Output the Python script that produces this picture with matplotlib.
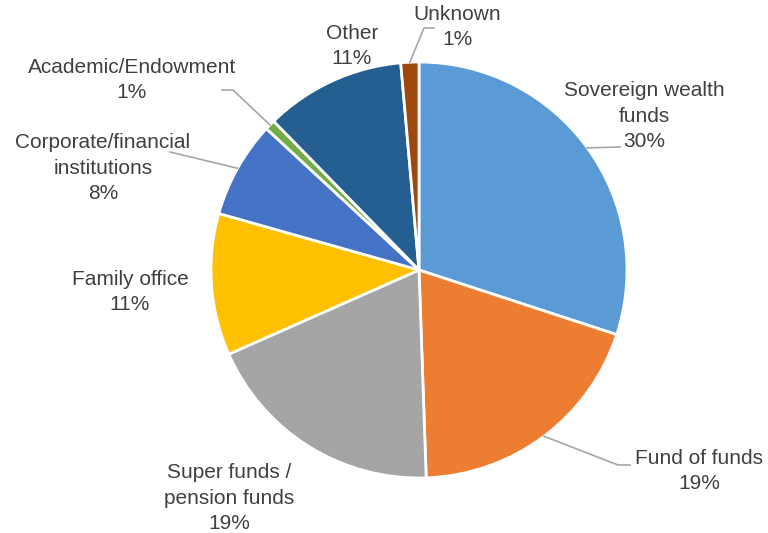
import numpy as np
import matplotlib.pyplot as plt

plt.rcParams['font.family'] = ['Liberation Sans', 'DejaVu Sans']

# investor types, clockwise from 12 o'clock
labels = ['Sovereign wealth\nfunds', 'Fund of funds', 'Super funds /\npension funds',
          'Family office', 'Corporate/financial\ninstitutions', 'Academic/Endowment',
          'Other', 'Unknown']
shares = [30.0, 19.4, 18.9, 11.0, 7.5, 0.8, 10.9, 1.4]
colors = ['#5B9BD5', '#ED7D31', '#A5A5A5', '#FFC000', '#4472C4', '#70AD47',
          '#255E91', '#9E480E']

# label block centres (pixels from top-left) and leader line elbows
label_pos = [(644, 116), (699, 471), (229, 498), (130, 292), (103, 168),
             (132, 80), (352, 46), (457, 27)]
leaders = {0: [(620, 147)],
           1: [(630, 465), (618, 465)],
           4: [(170, 152)],
           5: [(222, 90), (233, 90)],
           7: [(434, 28), (424, 28)]}

W, H = 768, 533
cx, cy, r = 419, 270, 208

fig = plt.figure(figsize=(W / 100, H / 100), dpi=100)
ax = fig.add_axes([(cx - r) / W, (H - cy - r) / H, 2 * r / W, 2 * r / H])
ax.pie(shares, colors=colors, startangle=90, counterclock=False,
       wedgeprops=dict(edgecolor='white', linewidth=2))
ax.set_xlim(-1, 1)
ax.set_ylim(-1, 1)
ax.set_aspect('auto')
ax.axis('off')

def fx(p):
    return (p[0] / W, 1 - p[1] / H)

total = sum(shares)
start = 0.0
for i, (lab, s) in enumerate(zip(labels, shares)):
    mid = start + s / 2
    start += s
    ang = np.deg2rad(mid / total * 360)
    edge = (cx + r * np.sin(ang), cy - r * np.cos(ang))
    pct = '%.0f%%' % (s / total * 100)
    fig.text(*fx(label_pos[i]), lab + '\n' + pct, ha='center', va='center',
             fontsize=15, color='#404040', linespacing=1.42)
    if i in leaders:
        pts = leaders[i] + [edge]
        xs = [p[0] / W for p in pts]
        ys = [1 - p[1] / H for p in pts]
        fig.add_artist(plt.Line2D(xs, ys, color='#A6A6A6', lw=1.2))

fig.savefig('out.png', dpi=100)
